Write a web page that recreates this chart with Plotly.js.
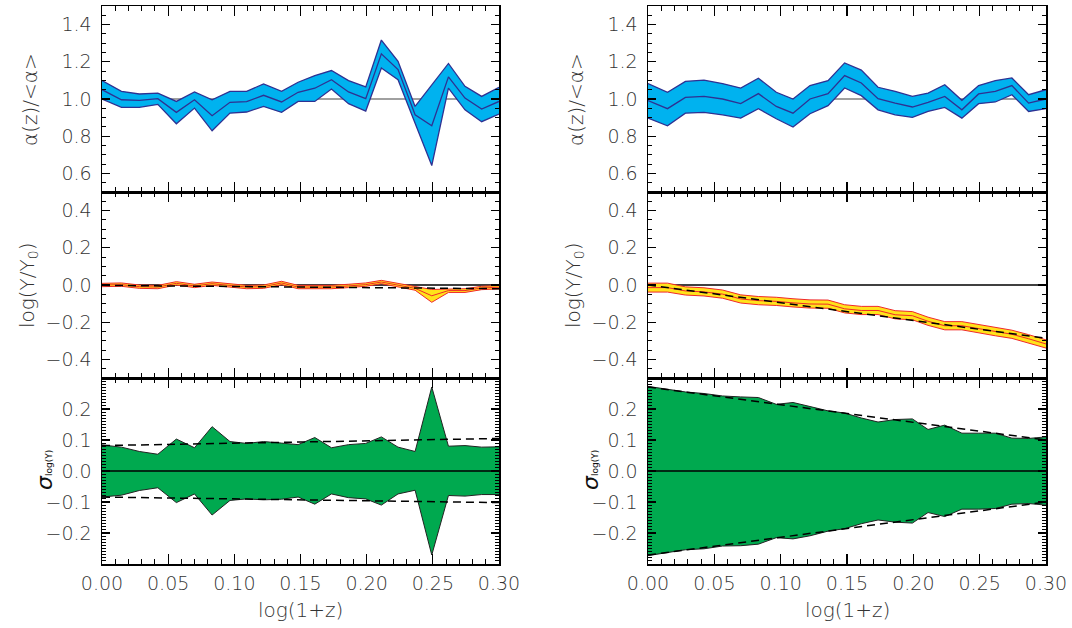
<!DOCTYPE html>
<html>
<head>
<meta charset="utf-8">
<script src="https://cdn.plot.ly/plotly-3.0.1.min.js"></script>
<style>html,body{margin:0;padding:0;background:#fff;}#plot{width:1072px;height:628px;}</style>
</head>
<body>
<div id="plot"></div>
<script>
// ---- data ----
const logZ = [0.000, 0.0147, 0.0282, 0.0422, 0.0562, 0.0699, 0.0832, 0.0967, 0.1093, 0.1221, 0.1357, 0.1482,
              0.1608, 0.1734, 0.1863, 0.1993, 0.2111, 0.2237, 0.2366, 0.2492, 0.2618, 0.2743, 0.2869, 0.3000];

// left column: alpha(z)/<alpha>
const alphaLeftMid = [1.050, 0.996, 0.993, 1.002, 0.928, 0.996, 0.910, 0.982, 0.986, 1.020, 0.984, 1.036,
                      1.058, 1.104, 1.038, 1.002, 1.243, 1.158, 0.915, 0.856, 1.119, 1.005, 0.946, 0.987];
const alphaLeftHi  = [1.099, 1.041, 1.027, 1.032, 0.987, 1.038, 0.996, 1.041, 1.041, 1.081, 1.041, 1.090,
                      1.126, 1.153, 1.099, 1.065, 1.317, 1.203, 0.960, 1.074, 1.191, 1.068, 1.014, 1.063];
const alphaLeftLo  = [1.000, 0.955, 0.955, 0.971, 0.867, 0.951, 0.829, 0.924, 0.930, 0.960, 0.928, 0.987,
                      0.987, 1.054, 0.975, 0.935, 1.167, 1.104, 0.870, 0.642, 1.059, 0.942, 0.878, 0.919];
// right column: alpha(z)/<alpha>
const alphaRightMid = [0.991, 0.948, 1.009, 1.014, 1.000, 0.975, 1.029, 0.960, 0.924, 1.000, 1.029, 1.126,
                       1.086, 1.002, 0.978, 0.957, 0.982, 1.014, 0.942, 1.027, 1.041, 1.072, 0.978, 1.000];
const alphaRightHi  = [1.083, 1.036, 1.095, 1.101, 1.083, 1.059, 1.112, 1.036, 1.000, 1.072, 1.099, 1.194,
                       1.155, 1.063, 1.041, 1.014, 1.032, 1.077, 0.993, 1.072, 1.099, 1.113, 1.023, 1.050];
const alphaRightLo  = [0.897, 0.856, 0.924, 0.928, 0.915, 0.897, 0.948, 0.894, 0.849, 0.921, 0.964, 1.059,
                       1.018, 0.942, 0.915, 0.901, 0.933, 0.955, 0.897, 0.975, 0.984, 1.023, 0.933, 0.948];

// left column: log(Y/Y0)
const logYLeftMid = [0.000, 0.002, -0.009, -0.011, 0.009, -0.005, 0.007, -0.004, -0.011, -0.009, 0.011, -0.011,
                     -0.012, -0.011, -0.005, 0.002, 0.016, -0.002, -0.018, -0.058, -0.030, -0.030, -0.016, -0.012];
const logYLeftHi  = [0.009, 0.011, 0.000, -0.002, 0.018, 0.004, 0.016, 0.005, -0.002, 0.000, 0.020, -0.002,
                     -0.003, -0.002, 0.004, 0.011, 0.025, 0.007, -0.008, -0.024, -0.020, -0.020, -0.007, -0.003];
const logYLeftLo  = [-0.009, -0.007, -0.018, -0.020, 0.000, -0.014, -0.002, -0.013, -0.020, -0.018, 0.002, -0.020,
                     -0.021, -0.020, -0.014, -0.007, 0.007, -0.011, -0.028, -0.093, -0.040, -0.040, -0.025, -0.021];
// right column: log(Y/Y0)
const logYRightMid = [-0.014, -0.014, -0.032, -0.037, -0.049, -0.075, -0.084, -0.088, -0.096, -0.102, -0.103, -0.128,
                      -0.137, -0.137, -0.160, -0.165, -0.195, -0.219, -0.219, -0.233, -0.251, -0.265, -0.289, -0.317];
const logYRightHi  = [0.010, 0.010, -0.010, -0.015, -0.027, -0.053, -0.062, -0.066, -0.074, -0.080, -0.081, -0.106,
                      -0.115, -0.115, -0.138, -0.143, -0.173, -0.197, -0.197, -0.211, -0.229, -0.243, -0.267, -0.295];
const logYRightLo  = [-0.038, -0.038, -0.054, -0.059, -0.071, -0.097, -0.106, -0.110, -0.118, -0.124, -0.125, -0.150,
                      -0.159, -0.159, -0.182, -0.187, -0.217, -0.241, -0.241, -0.255, -0.273, -0.287, -0.311, -0.339];

// sigma_log(Y) envelopes
const sigmaLeftHi = [0.084, 0.077, 0.063, 0.054, 0.103, 0.075, 0.143, 0.095, 0.089, 0.095, 0.090, 0.085,
                     0.108, 0.075, 0.085, 0.089, 0.110, 0.077, 0.063, 0.271, 0.080, 0.082, 0.077, 0.078];
const sigmaLeftLo = [-0.084, -0.078, -0.063, -0.054, -0.102, -0.074, -0.142, -0.095, -0.090, -0.093, -0.091, -0.084,
                     -0.107, -0.074, -0.086, -0.090, -0.110, -0.074, -0.062, -0.271, -0.079, -0.081, -0.076, -0.076];
const sigmaRightHi = [0.273, 0.263, 0.255, 0.250, 0.242, 0.239, 0.237, 0.215, 0.221, 0.208, 0.194, 0.187,
                      0.171, 0.158, 0.166, 0.168, 0.134, 0.148, 0.122, 0.122, 0.122, 0.106, 0.105, 0.110];
const sigmaRightLo = [-0.273, -0.263, -0.254, -0.251, -0.242, -0.241, -0.236, -0.215, -0.219, -0.209, -0.194, -0.186,
                      -0.170, -0.158, -0.165, -0.168, -0.134, -0.147, -0.123, -0.123, -0.121, -0.107, -0.105, -0.110];

// dashed trend lines (end points) and reference levels
const fitX = [0.0, 0.3];
const fitLogYLeft = [-0.002, -0.020];
const fitLogYRight = [0.000, -0.286];
const fitSigLeftHi = [0.082, 0.105];
const fitSigLeftLo = [-0.084, -0.102];
const fitSigRightHi = [0.271, 0.100];
const fitSigRightLo = [-0.271, -0.100];
const refAlpha = [1.0, 1.0];
const refZero = [0.0, 0.0];

const xTickVals = [0.00, 0.05, 0.10, 0.15, 0.20, 0.25, 0.30];
const yTickAlpha = [0.6, 0.8, 1.0, 1.2, 1.4];
const yTickLogY = [-0.4, -0.2, 0.0, 0.2, 0.4];
const yTickSig = [-0.2, -0.1, 0.0, 0.1, 0.2];

// ---- styles ----
const BLUE = '#00B2EF', NAVY = '#2E3192', YEL = '#FFE31A', RED = '#F0282A', GREEN = '#00A94F';
const traces = [];
function line(x, y, xa, ya, color, width, dash, fill, fillcolor) {
  const t = {x: x, y: y, xaxis: xa, yaxis: ya, mode: 'lines', hoverinfo: 'skip', showlegend: false,
             line: {color: color, width: width, dash: dash || 'solid'}};
  if (fill) { t.fill = fill; t.fillcolor = fillcolor; }
  traces.push(t);
}
function column(n0, aMid, aHi, aLo, lMid, lHi, lLo, fitL, sHi, sLo, fHi, fLo) {
  const xa1 = 'x' + (n0 === 1 ? '' : n0), ya1 = 'y' + (n0 === 1 ? '' : n0);
  const xa2 = 'x' + (n0 + 1), ya2 = 'y' + (n0 + 1);
  const xa3 = 'x' + (n0 + 2), ya3 = 'y' + (n0 + 2);
  // top panel
  line(fitX, refAlpha, xa1, ya1, '#808080', 1.5);
  line(logZ, aLo, xa1, ya1, NAVY, 1.3);
  line(logZ, aHi, xa1, ya1, NAVY, 1.3, 'solid', 'tonexty', BLUE);
  line(logZ, aMid, xa1, ya1, NAVY, 1.3);
  // middle panel
  line(fitX, refZero, xa2, ya2, '#000', 1.5);
  line(logZ, lLo, xa2, ya2, RED, 1, 'solid');
  line(logZ, lHi, xa2, ya2, RED, 1, 'solid', 'tonexty', YEL);
  line(logZ, lMid, xa2, ya2, RED, 1);
  line(fitX, fitL, xa2, ya2, '#000', 1.5, '8px,5px');
  // bottom panel
  line(logZ, sLo, xa3, ya3, '#222', 1);
  line(logZ, sHi, xa3, ya3, '#222', 1, 'solid', 'tonexty', GREEN);
  line(fitX, refZero, xa3, ya3, '#000', 1.3);
  line(fitX, fHi, xa3, ya3, '#000', 1.5, '8px,5px');
  line(fitX, fLo, xa3, ya3, '#000', 1.5, '8px,5px');
}
column(1, alphaLeftMid, alphaLeftHi, alphaLeftLo, logYLeftMid, logYLeftHi, logYLeftLo, fitLogYLeft,
       sigmaLeftHi, sigmaLeftLo, fitSigLeftHi, fitSigLeftLo);
column(4, alphaRightMid, alphaRightHi, alphaRightLo, logYRightMid, logYRightHi, logYRightLo, fitLogYRight,
       sigmaRightHi, sigmaRightLo, fitSigRightHi, fitSigRightLo);

const W = 1072, H = 628;
const TF = {family: 'DejaVu Sans', size: 19, color: '#333333', weight: 200};
const colX = [[102 / W, 499 / W], [648 / W, 1046 / W]];
const rowY = [[1 - 192 / H, 1 - 6 / H], [1 - 378 / H, 1 - 192 / H], [1 - 564 / H, 1 - 378 / H]];
const yRanges = [[0.5, 1.5], [-0.5, 0.5], [-0.3, 0.3]];
const yTicks = [yTickAlpha, yTickLogY, yTickSig];
const yMinor = [0.05, 0.05, 0.01];
const layout = {width: W, height: H, margin: {l: 0, r: 0, t: 0, b: 0}, paper_bgcolor: '#fff', plot_bgcolor: '#fff',
                showlegend: false, annotations: []};
function axisBase() {
  return {showline: true, linecolor: '#000', linewidth: 1.5, mirror: 'ticks', ticks: 'inside', tickcolor: '#000',
          tickwidth: 1.2, showgrid: false, zeroline: false, tickfont: TF, fixedrange: true};
}
for (let c = 0; c < 2; c++) {
  for (let r = 0; r < 3; r++) {
    const n = c * 3 + r + 1;
    const sx = n === 1 ? '' : String(n);
    const xa = axisBase();
    Object.assign(xa, {domain: colX[c], range: [0, 0.3], anchor: 'y' + sx, tickvals: xTickVals, tickformat: '.2f',
                       ticklen: 10, showticklabels: r === 2, ticklabelstandoff: 2,
                       minor: {dtick: 0.01, tick0: 0, ticks: 'inside', ticklen: 5, tickwidth: 1, tickcolor: '#000', showgrid: false}});
    const ya = axisBase();
    Object.assign(ya, {domain: rowY[r], range: yRanges[r], anchor: 'x' + sx, tickvals: yTicks[r], tickformat: '.1f',
                       ticklen: 8, ticklabelstandoff: 5,
                       minor: {dtick: yMinor[r], tick0: 0, ticks: 'inside', ticklen: 4, tickwidth: 1, tickcolor: '#000', showgrid: false}});
    layout['xaxis' + sx] = xa;
    layout['yaxis' + sx] = ya;
  }
}
// axis titles as annotations
const titleFont = {family: 'DejaVu Sans', size: 20, color: '#333333', weight: 200};
function ann(text, px, py, angle, font) {
  layout.annotations.push({text: text, x: px / W, y: 1 - py / H, xref: 'paper', yref: 'paper', showarrow: false,
                           textangle: angle, xanchor: 'center', yanchor: 'middle', font: font || titleFont});
}
const colOff = [0, 546];
for (let c = 0; c < 2; c++) {
  const o = colOff[c];
  ann('α(z)/&lt;α&gt;', 30 + o, 100, -90);
  ann('log(Y/Y<sub>0</sub>)', 28 + o, 285, -90);
  ann('<i>σ</i><span style="font-size:9px">log(Y)</span>', 45 + o, 470, -90,
      {family: 'DejaVu Sans', size: 22, color: '#111', weight: 'normal'});
  ann('log(1+z)', (c === 0 ? 300 : 847), 610, 0);
}
Plotly.newPlot('plot', traces, layout, {staticPlot: true, displayModeBar: false});
</script>
</body>
</html>
